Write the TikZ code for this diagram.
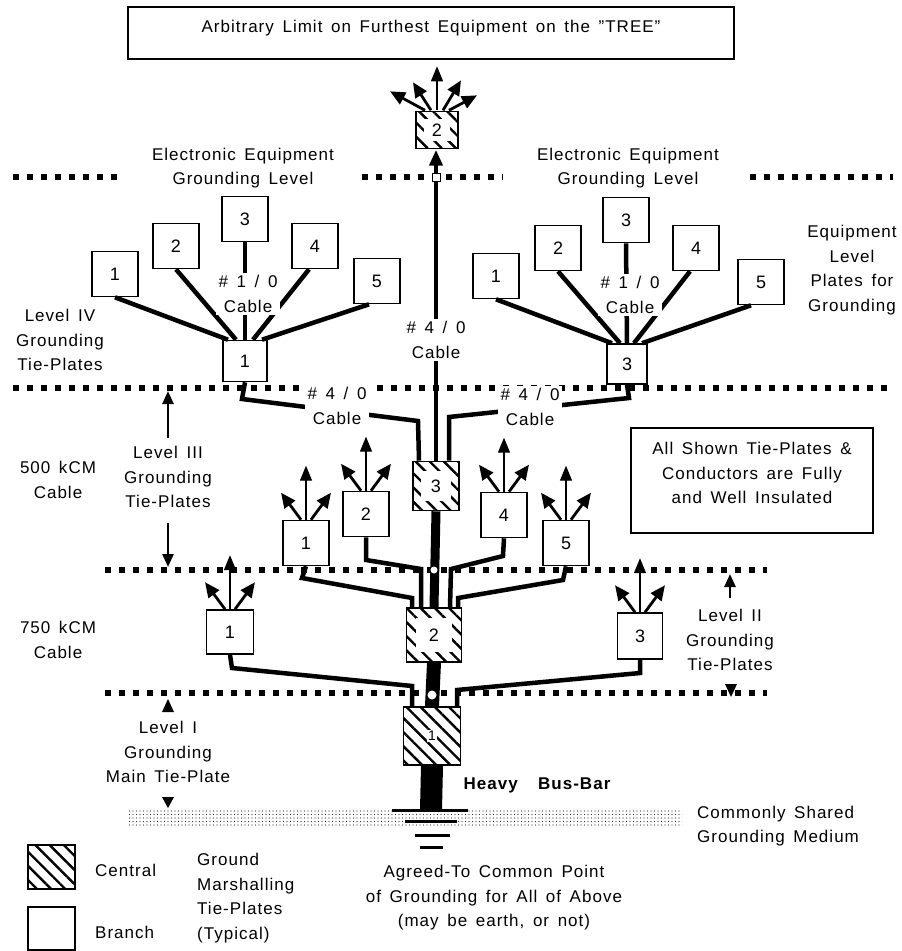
\documentclass[tikz,border=0pt]{standalone}
\usepackage{fontspec}
\setmainfont{Liberation Sans}[LetterSpace=6,WordSpace=1.5]
\usetikzlibrary{arrows.meta,patterns,patterns.meta,calc}
\newcommand{\lbfont}{\fontsize{17}{24.5}\selectfont}
\newcommand{\numfont}{\fontsize{18}{20}\selectfont}
\tikzset{
  eqbox/.style={draw, line width=1.6pt, fill=white, minimum width=46pt, minimum height=45pt, inner sep=0pt, font=\numfont},
  central/.style={draw, line width=1.6pt, pattern={Lines[angle=-45,distance=10pt,line width=2.4pt]}, inner sep=0pt},
  numwhite/.style={fill=white, inner sep=1pt, minimum size=20pt, font=\numfont},
  cable/.style={line width=4.5pt},
  level/.style={line width=6pt, dash pattern=on 6pt off 8pt},
  fanc/.style={line width=1.3pt, -{Triangle[length=15pt,width=12pt]}},
  fan/.style={line width=2.8pt, -{Triangle[length=15pt,width=13pt]}},
  lvlarrow/.style={line width=2.5pt, -{Triangle[length=13pt,width=11pt]}},
  txt/.style={align=center, font=\lbfont, inner sep=0pt},
  cablelbl/.style={txt, fill=white, inner sep=3pt},
}
\begin{document}
\begin{tikzpicture}[x=1pt,y=-1pt]
\path[use as bounding box] (0,0) rectangle (902,951);

% title
\node[draw, line width=2.5pt, minimum width=606pt, minimum height=52pt, inner sep=0pt] (titlebox) at (431,33) {};
\node[txt] (titletext) at (431,28) {Arbitrary Limit on Furthest Equipment on the "TREE"};

% level lines
\draw[level] (13,177) -- (123,177);
\draw[level] (362,177) -- (503,177);
\draw[level] (750,177) -- (893,177);
\draw[level] (13,388) -- (890,388);
\draw[level] (105,570) -- (767,570);
\draw[level] (105,693) -- (767,693);

% grounding medium
\fill[pattern={Dots[distance=3.5pt,radius=0.6pt]}, pattern color=black!80] (128,808) rectangle (682,825);

% equipment boxes left
\node[eqbox] (L1) at (115,274) {1};
\node[eqbox] (L2) at (176,246) {2};
\node[eqbox] (L3) at (245,219) {3};
\node[eqbox] (L4) at (315,246) {4};
\node[eqbox] (L5) at (377,281) {5};
\node[eqbox, minimum width=44pt, minimum height=41pt] (LT) at (245,361) {1};
% right
\node[eqbox] (R1) at (496,276) {1};
\node[eqbox] (R2) at (558,248) {2};
\node[eqbox] (R3) at (626,220) {3};
\node[eqbox] (R4) at (696,248) {4};
\node[eqbox] (R5) at (761,282) {5};
\node[eqbox, minimum width=40pt, minimum height=40pt] (RT) at (627,364) {3};

% level III plates
\node[eqbox] (B1) at (306,543) {1};
\node[eqbox] (B2) at (366,514) {2};
\node[eqbox] (B4) at (504,515) {4};
\node[eqbox] (B5) at (566,543) {5};
% level II plates
\node[eqbox, minimum width=47pt, minimum height=44pt] (D1) at (230,632) {1};
\node[eqbox, minimum width=45pt, minimum height=46pt] (D3) at (640,636) {3};

% central plates
\node[central, minimum width=42pt, minimum height=37pt] (T2) at (437,130) {};
\node[numwhite, minimum width=26pt, minimum height=22pt] (T2n) at (T2) {2};
\node[central, minimum width=46pt, minimum height=49pt] (C3) at (436,486) {};
\node[numwhite, minimum width=30pt, minimum height=30pt] (C3n) at (C3) {3};
\node[central, minimum width=55pt, minimum height=54pt] (C2) at (434,635) {};
\node[numwhite, minimum width=36pt, minimum height=34pt] (C2n) at (C2) {2};
\node[central, minimum width=57pt, minimum height=58pt] (C1) at (432,736) {};
\node[fill=white, inner sep=1.5pt, font=\fontsize{14}{15}\selectfont] (C1n) at (C1) {1};

% equipment cables
\draw[cable] (L1.south) -- ([xshift=-17pt]LT.north);
\draw[cable] (L2.south) -- ([xshift=-9pt]LT.north);
\draw[cable] (L3.south) -- (LT.north);
\draw[cable] ([xshift=-6pt]L4.south) -- ([xshift=8pt]LT.north);
\draw[cable] ([xshift=-8pt]L5.south) -- ([xshift=17pt]LT.north);
\draw[cable] (R1.south) -- ([xshift=-15pt]RT.north);
\draw[cable] (R2.south) -- ([xshift=-7pt]RT.north);
\draw[cable] (R3.south) -- (RT.north);
\draw[cable] ([xshift=-6pt]R4.south) -- ([xshift=7pt]RT.north);
\draw[cable] ([xshift=-10pt]R5.south) -- ([xshift=15pt]RT.north);
\node[cablelbl] (lab1) at (248,294) {\# 1 / 0\\Cable};
\node[cablelbl] (lab2) at (630,295) {\# 1 / 0\\Cable};

% level IV to central 3
\draw[cable] (LT.south) -- (242,399) -- (418,421) -- ([xshift=-17pt]C3.north);
\draw[cable] (RT.south) -- (629,398) -- (449,417) -- ([xshift=13pt]C3.north);
\node[cablelbl] (lab3) at (337,406) {\# 4 / 0\\Cable};
\node[cablelbl] (lab4) at (530,407) {\# 4 / 0\\Cable};

% central riser to top plate
\draw[line width=4pt, -{Triangle[length=16pt,width=13pt]}] (C3.north) -- (C3.north |- T2.south);
\node[cablelbl] (lab5) at (436,340) {\# 4 / 0\\Cable};
\node[draw, fill=white, line width=1pt, minimum size=8pt, inner sep=0pt] (cross1) at (436,177) {};

% top fan
\foreach \sx/\dx/\dy in {-12/-35/-19, -6/-18/-28, 6/18/-30, 12/28/-15}
  \draw[fan] ([xshift=\sx pt]T2.north) -- ++(\dx,\dy);
\draw[fanc] (T2.north) -- ++(0,-44);

% branch fans
\foreach \p in {B1,B2,B4,B5,D1,D3} {
  \draw[fan] ([xshift=-5pt]\p.north) -- ++(-20,-27);
  \draw[fanc] (\p.north) -- ++(0,-54);
  \draw[fan] ([xshift=5pt]\p.north) -- ++(20,-27);
}

% level III to central 2
\draw[cable] (B1.south) -- (302,578) -- (412,598) -- ([xshift=-22pt]C2.north);
\draw[cable] (B2.south) -- (366,560) -- (421,569) -- ([xshift=-13pt]C2.north);
\draw[cable] (B4.south) -- (503,556) -- (451,569) -- ([xshift=16pt]C2.north);
\draw[cable] (B5.south) -- (563,580) -- (458,598) -- ([xshift=24pt]C2.north);
% level II to central 1
\draw[cable] (D1.south) -- (232,668) -- (412,686) -- ([xshift=-20pt]C1.north);
\draw[cable] (D3.south) -- (640,673) -- (457,690) -- ([xshift=25pt]C1.north);

% trunk
\coordinate (busfoot) at (431,810);
\draw[line width=9pt] (C3.south) -- (C2.north);
\draw[line width=14pt] (C2.south) -- (C1.north);
\draw[line width=22pt] (C1.south) -- (busfoot);
\node[circle, fill=white, minimum size=7pt, inner sep=0pt] (cross2) at (434,570) {};
\node[circle, fill=white, minimum size=9pt, inner sep=0pt] (cross3) at (432,695) {};
\draw[line width=3pt] (392,810) -- (468,810);
\draw[line width=3pt] (405,821) -- (457,821);
\draw[line width=3pt] (415,835) -- (450,835);
\draw[line width=3pt] (420,847) -- (443,847);

% level arrows
\draw[lvlarrow] (168,438) -- (168,391);
\draw[lvlarrow] (168,523) -- (168,567);
\draw[lvlarrow] (730,598) -- (730,574);
\fill (725,684) -- (737,684) -- (731,697) -- cycle;
\fill (162,712) -- (174,712) -- (168,699) -- cycle;
\fill (162,797) -- (174,797) -- (168,808) -- cycle;

% texts
\node[txt] (eegl) at (243,168) {Electronic Equipment\\Grounding Level};
\node[txt] (eegr) at (628,168) {Electronic Equipment\\Grounding Level};
\node[txt] (lv4) at (60,340) {Level IV\\Grounding\\Tie-Plates};
\node[txt] (eqlv) at (852,270) {Equipment\\Level\\Plates for\\Grounding};
\node[txt] (lv3) at (168,477) {Level III\\Grounding\\Tie-Plates};
\node[txt] (c500) at (58,480) {500 kCM\\Cable};
\node[txt] (c750) at (58,640) {750 kCM\\Cable};
\node[txt] (lv2) at (730,640) {Level II\\Grounding\\Tie-Plates};
\node[txt] (lv1) at (168,752) {Level I\\Grounding\\Main Tie-Plate};
\node[draw, line width=2.5pt, minimum width=242pt, minimum height=105pt, inner sep=0pt] (insbox) at (752,480.5) {};
\node[txt] (instext) at (752,473) {All Shown Tie-Plates \&\\Conductors are Fully\\and Well Insulated};
\node[txt, font=\lbfont\bfseries] (heavy) at (537,785) {Heavy\hspace{1.2em}Bus-Bar};
\node[txt, align=left, anchor=west] (medium) at (697,826) {Commonly Shared\\Grounding Medium};
\node[txt] (agreed) at (494,898) {Agreed-To Common Point\\of Grounding for All of Above\\(may be earth, or not)};

% legend
\node[central, minimum width=47pt, minimum height=44pt] (LC) at (51.5,867) {};
\node[eqbox, minimum width=47pt, minimum height=43pt] (LB) at (51.5,928.5) {};
\node[txt, anchor=west] (lgc) at (95,870) {Central};
\node[txt, anchor=west] (lgb) at (95,932) {Branch};
\node[txt, align=left, anchor=west] (lgt) at (197,898) {Ground\\Marshalling\\Tie-Plates\\(Typical)};
\end{tikzpicture}
\end{document}
